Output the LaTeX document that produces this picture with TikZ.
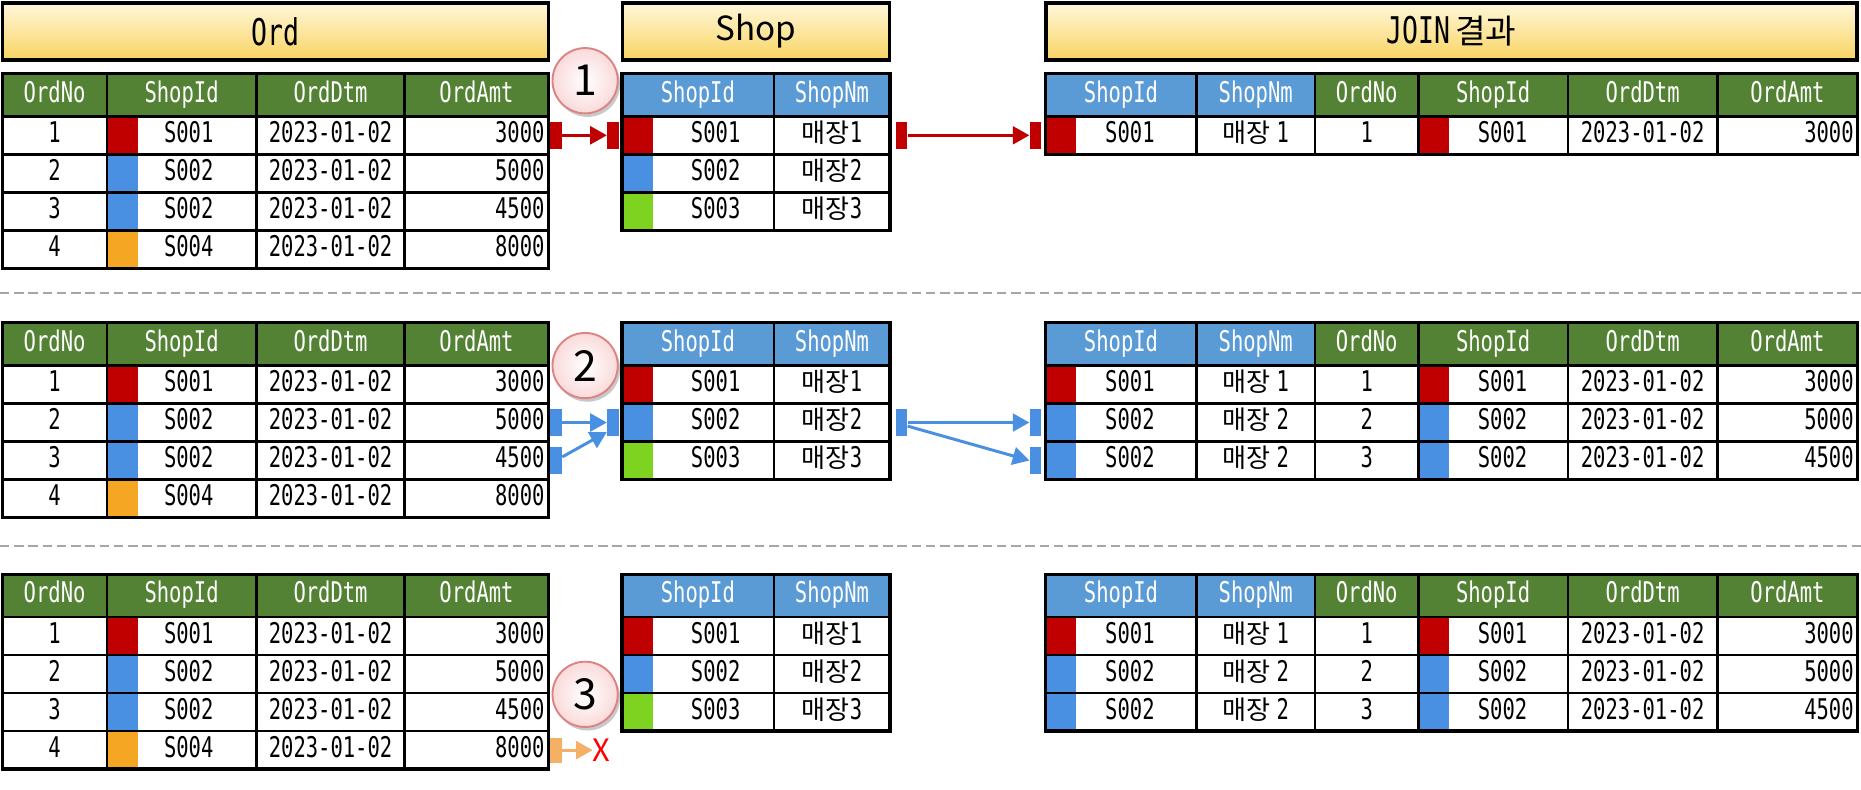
\documentclass[tikz,border=0pt]{standalone}
\usepackage{fontspec}
\setmainfont{Noto Sans CJK KR}
\newfontfamily\mono[FakeStretch=0.72]{DejaVu Sans Mono}
\newfontfamily\kr{Noto Sans CJK KR}
\usetikzlibrary{shadows,arrows.meta}

\definecolor{hgreen}{HTML}{548235}
\definecolor{hblue}{HTML}{5B9BD5}
\definecolor{sred}{HTML}{C00000}
\definecolor{sblue}{HTML}{4A90E2}
\definecolor{sgreen}{HTML}{7ED321}
\definecolor{sorange}{HTML}{F5A623}
\definecolor{aorange}{HTML}{F5B066}
\definecolor{ylight}{HTML}{FFF7DA}
\definecolor{ydark}{HTML}{F9D462}
\definecolor{dashgray}{HTML}{A6A6A6}
\definecolor{circline}{HTML}{DC8484}
\definecolor{circpink}{HTML}{FADADA}

\tikzset{
  titlebox/.style={draw=black,line width=3pt,top color=ylight,bottom color=ydark,
    inner sep=0pt,font=\kr\fontsize{28}{30}\selectfont},
  htext/.style={text=white,inner sep=0pt,text height=17pt,text depth=5pt,
    font=\mono\fontsize{24}{26}\selectfont},
  ctext/.style={text=black,inner sep=0pt,text height=17pt,text depth=5pt,
    font=\mono\fontsize{24}{26}\selectfont},
  krs/.style={},
  gridline/.style={draw=black,line width=2.2pt},
  outerline/.style={draw=black,line width=2.8pt},
  numcirc/.style={circle,minimum size=55pt,inner sep=0pt,draw=circline,line width=1.6pt,
    inner color=white,outer color=circpink,
    drop shadow={shadow xshift=2pt,shadow yshift=-3pt,opacity=0.35,fill=black!60},
    font=\kr\fontsize{36}{36}\selectfont},
  barnode/.style={rectangle,inner sep=0pt,minimum width=10pt,minimum height=23pt},
  link/.style={line width=2.5pt,-{Triangle[length=14pt,width=15pt]}},
  sepline/.style={draw=dashgray,line width=2pt,dash pattern=on 8pt off 4pt},
}

\newcommand\KR[1]{{\kr\fontsize{22}{24}\selectfont #1}}

\newcommand\hcell[5]{%
  \fill[#3] (#1,0) rectangle (#2,36);
  \node[htext] (#5) at ({(#1+#2)/2},18) {#4};}

\newcommand\OrdTable[2]{%
\begin{scope}[shift={(0,#2)}]
  \hcell{2}{90}{hgreen}{OrdNo}{#1h1}
  \hcell{90}{216}{hgreen}{ShopId}{#1h2}
  \hcell{216}{341}{hgreen}{OrdDtm}{#1h3}
  \hcell{341}{462}{hgreen}{OrdAmt}{#1h4}
  \foreach \n/\c/\s/\a in {1/sred/S001/3000,2/sblue/S002/5000,3/sblue/S002/4500,4/sorange/S004/8000}{%
    \pgfmathsetmacro\yt{4+32*\n}
    \fill[\c] (90,\yt) rectangle (116,\yt+32);
    \node[ctext] (#1r\n-1) at (46,\yt+16) {\n};
    \node[ctext] (#1r\n-2) at (159,\yt+16) {\s};
    \node[ctext] (#1r\n-3) at (278.5,\yt+16) {2023-01-02};
    \node[ctext,anchor=east] (#1r\n-4) at (459,\yt+16) {\a};
  }
  \draw[gridline] (2,36)--(462,36) (2,68)--(462,68) (2,100)--(462,100) (2,132)--(462,132)
    (90,0)--(90,164) (216,0)--(216,164) (341,0)--(341,164);
  \draw[outerline] (2,0) rectangle (462,164);
\end{scope}}

\newcommand\ShopTable[2]{%
\begin{scope}[shift={(0,#2)}]
  \hcell{524}{652}{hblue}{ShopId}{#1h1}
  \hcell{652}{750}{hblue}{ShopNm}{#1h2}
  \foreach \n/\c/\s in {1/sred/S001,2/sblue/S002,3/sgreen/S003}{%
    \pgfmathsetmacro\yt{4+32*\n}
    \fill[\c] (524,\yt) rectangle (550,\yt+32);
    \node[ctext] (#1r\n-1) at (603,\yt+16) {\s};
    \node[ctext] (#1r\n-2) at (701,\yt+16) {\KR{매장}\n};
  }
  \draw[gridline] (524,36)--(750,36) (524,68)--(750,68) (524,100)--(750,100)
    (652,0)--(652,132);
  \draw[outerline] (524,0) rectangle (750,132);
\end{scope}}

\newcommand\JoinRow[6]{%
  \pgfmathsetmacro\yt{4+32*#2}
  \fill[#3] (881,\yt) rectangle (907,\yt+32);
  \fill[#3] (1195,\yt) rectangle (1221,\yt+32);
  \node[ctext] (#1r#2-1) at (952,\yt+16) {#4};
  \node[ctext] (#1r#2-2) at (1058,\yt+16) {\KR{매장}\hspace{5pt}#5};
  \node[ctext] (#1r#2-3) at (1151.5,\yt+16) {#2};
  \node[ctext] (#1r#2-4) at (1266,\yt+16) {#4};
  \node[ctext] (#1r#2-5) at (1384,\yt+16) {2023-01-02};
  \node[ctext,anchor=east] (#1r#2-6) at (1562,\yt+16) {#6};
}

\newcommand\JoinHead[1]{%
  \hcell{881}{1008}{hblue}{ShopId}{#1h1}
  \hcell{1008}{1108}{hblue}{ShopNm}{#1h2}
  \hcell{1108}{1195}{hgreen}{OrdNo}{#1h3}
  \hcell{1195}{1321}{hgreen}{ShopId}{#1h4}
  \hcell{1321}{1447}{hgreen}{OrdDtm}{#1h5}
  \hcell{1447}{1565}{hgreen}{OrdAmt}{#1h6}}

\newcommand\JoinGrid[1]{% #1 = bottom
  \draw[gridline] (881,36)--(1565,36)
    (1008,0)--(1008,#1) (1108,0)--(1108,#1) (1195,0)--(1195,#1)
    (1321,0)--(1321,#1) (1447,0)--(1447,#1);
  \draw[outerline] (881,0) rectangle (1565,#1);}

\begin{document}
\begin{tikzpicture}[x=1pt,y=-1pt]
\useasboundingbox (0,0) rectangle (1568,665);
\fill[white] (0,0) rectangle (1568,665);

% titles
\node[titlebox,minimum width=460pt,minimum height=48pt] (tOrd) at (232,26.5) {\mono\fontsize{31}{32}\selectfont Ord};
\node[titlebox,minimum width=225pt,minimum height=48pt] (tShop) at (637,26.5) {Shop};
\node[titlebox,minimum width=683pt,minimum height=48pt] (tJoin) at (1223,26.5) {{\mono\fontsize{31}{32}\selectfont JOIN}\hspace{4pt}결과};

% separators
\draw[sepline] (0,247) -- (1568,247);
\draw[sepline] (0,460) -- (1568,460);

% section 1
\OrdTable{oA}{62}
\ShopTable{sA}{62}
\begin{scope}[shift={(0,62)}]
  \JoinHead{jA}
  \JoinRow{jA}{1}{sred}{S001}{1}{3000}
  \JoinGrid{68}
\end{scope}

% section 2
\OrdTable{oB}{272}
\ShopTable{sB}{272}
\begin{scope}[shift={(0,272)}]
  \JoinHead{jB}
  \JoinRow{jB}{1}{sred}{S001}{1}{3000}
  \JoinRow{jB}{2}{sblue}{S002}{2}{5000}
  \JoinRow{jB}{3}{sblue}{S002}{2}{4500}
  \draw[gridline] (881,68)--(1565,68) (881,100)--(1565,100);
  \JoinGrid{132}
\end{scope}

% section 3
\OrdTable{oC}{484}
\ShopTable{sC}{484}
\begin{scope}[shift={(0,484)}]
  \JoinHead{jC}
  \JoinRow{jC}{1}{sred}{S001}{1}{3000}
  \JoinRow{jC}{2}{sblue}{S002}{2}{5000}
  \JoinRow{jC}{3}{sblue}{S002}{2}{4500}
  \draw[gridline] (881,68)--(1565,68) (881,100)--(1565,100);
  \JoinGrid{132}
\end{scope}

% numbered circles
\node[numcirc] (c1) at (493,68) {1};
\node[numcirc] (c2) at (493,308) {2};
\node[numcirc] (c3) at (493,585) {3};

% section 1 arrows
\node[barnode,fill=sred] (b1o) at (468.5,114) {};
\node[barnode,fill=sred] (b1s) at (516.5,114) {};
\node[barnode,fill=sred] (b1r) at (759.5,114) {};
\node[barnode,fill=sred] (b1j) at (872.5,114) {};
\draw[link,sred] (b1o.east) -- (b1s.west);
\draw[link,sred] (b1r.east) -- (b1j.west);

% section 2 arrows
\node[barnode,fill=sblue] (b2o1) at (468.5,356) {};
\node[barnode,fill=sblue] (b2o2) at (468.5,388) {};
\node[barnode,fill=sblue] (b2s) at (516.5,356) {};
\node[barnode,fill=sblue] (b2r) at (759.5,356) {};
\node[barnode,fill=sblue] (b2j1) at (872.5,356) {};
\node[barnode,fill=sblue] (b2j2) at (872.5,388) {};
\draw[link,sblue] (b2o1.east) -- (b2s.west);
\draw[link,sblue] ([yshift=3pt]b2o2.east) -- ([yshift=-8pt]b2s.west);
\draw[link,sblue] (b2r.east) -- (b2j1.west);
\draw[link,sblue] ([yshift=-3pt]b2r.east) -- (b2j2.west);

% section 3 arrow
\node[barnode,fill=aorange,minimum height=21pt] (b3o) at (468.5,632) {};
\node[text=red,inner sep=0pt,font=\kr\fontsize{26}{26}\selectfont] (x3) at (507,632) {X};
\draw[link,aorange] (b3o.east) -- (x3.west);
\end{tikzpicture}
\end{document}
